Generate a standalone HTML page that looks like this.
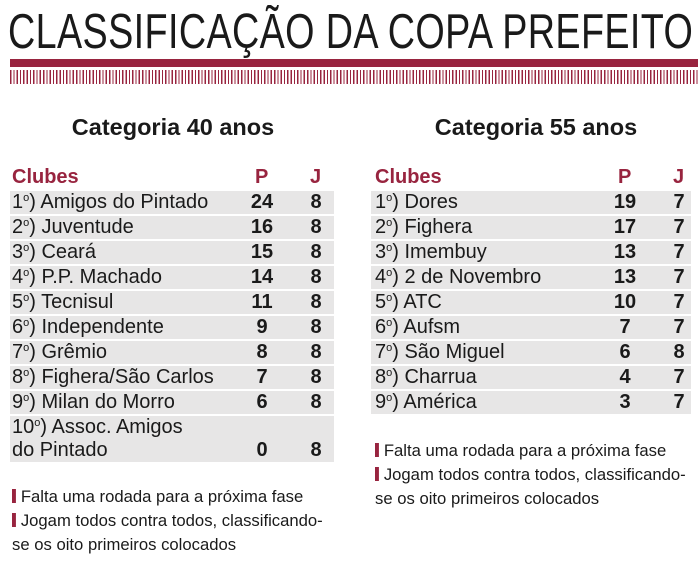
<!DOCTYPE html>
<html><head><meta charset="utf-8"><style>
*{margin:0;padding:0;box-sizing:border-box}
body{width:700px;height:568px;background:#fff;position:relative;overflow:hidden;font-family:"Liberation Sans",sans-serif;color:#1a1a1a}
.title{position:absolute;left:8px;top:4px;font-size:49px;white-space:nowrap;transform-origin:0 0;transform:scaleX(0.77);letter-spacing:0.5px;color:#1a1a1a}
.bar{position:absolute;left:10px;width:688px;top:59px;height:8px;background:#98243f}
.dash{position:absolute;left:10px;width:688px;top:70px;height:14px;background:repeating-linear-gradient(90deg,#98243f 0 1.3px,transparent 1.3px 3.3px)}
.h{position:absolute;font-weight:bold;font-size:23.5px;text-align:center;width:330px}
.ch{position:absolute;font-weight:bold;font-size:20px;color:#98243f;top:166px}
.row{position:absolute;height:23px;background:#e7e6e6}
.t{position:absolute;font-size:20px;white-space:nowrap;line-height:23px}
.n{position:absolute;font-weight:bold;font-size:20px;width:40px;text-align:center;line-height:23px}
.f{position:absolute;font-size:17px;white-space:nowrap;transform-origin:0 0;transform:scaleX(0.98)}
.m{display:inline-block;width:4px;height:14px;background:#98243f;margin-right:5px;vertical-align:-1px}
sup{font-size:11px;vertical-align:7px;line-height:0}
</style></head><body>
<div class="title">CLASSIFICAÇÃO DA COPA PREFEITO</div>
<div class="bar"></div><div class="dash"></div>
<div class="h" style="left:8px;top:114px">Categoria 40 anos</div>
<div class="h" style="left:371px;top:114px">Categoria 55 anos</div>
<div class="ch" style="left:12px">Clubes</div><div class="ch" style="left:255px">P</div><div class="ch" style="left:310px">J</div>
<div class="ch" style="left:375px">Clubes</div><div class="ch" style="left:618px">P</div><div class="ch" style="left:673px">J</div>

<div class="row" style="left:10px;top:191px;width:324px"></div>
<div class="row" style="left:10px;top:216px;width:324px"></div>
<div class="row" style="left:10px;top:241px;width:324px"></div>
<div class="row" style="left:10px;top:266px;width:324px"></div>
<div class="row" style="left:10px;top:291px;width:324px"></div>
<div class="row" style="left:10px;top:316px;width:324px"></div>
<div class="row" style="left:10px;top:341px;width:324px"></div>
<div class="row" style="left:10px;top:366px;width:324px"></div>
<div class="row" style="left:10px;top:391px;width:324px"></div>
<div class="row" style="left:10px;top:416px;width:324px;height:46px"></div>

<div class="row" style="left:371px;top:191px;width:320px"></div>
<div class="row" style="left:371px;top:216px;width:320px"></div>
<div class="row" style="left:371px;top:241px;width:320px"></div>
<div class="row" style="left:371px;top:266px;width:320px"></div>
<div class="row" style="left:371px;top:291px;width:320px"></div>
<div class="row" style="left:371px;top:316px;width:320px"></div>
<div class="row" style="left:371px;top:341px;width:320px"></div>
<div class="row" style="left:371px;top:366px;width:320px"></div>
<div class="row" style="left:371px;top:391px;width:320px"></div>

<div class="t" style="left:12px;top:191px">1<sup>o</sup>) Amigos do Pintado</div><div class="n" style="left:242px;top:191px">24</div><div class="n" style="left:296px;top:191px">8</div>
<div class="t" style="left:12px;top:216px">2<sup>o</sup>) Juventude</div><div class="n" style="left:242px;top:216px">16</div><div class="n" style="left:296px;top:216px">8</div>
<div class="t" style="left:12px;top:241px">3<sup>o</sup>) Ceará</div><div class="n" style="left:242px;top:241px">15</div><div class="n" style="left:296px;top:241px">8</div>
<div class="t" style="left:12px;top:266px">4<sup>o</sup>) P.P. Machado</div><div class="n" style="left:242px;top:266px">14</div><div class="n" style="left:296px;top:266px">8</div>
<div class="t" style="left:12px;top:291px">5<sup>o</sup>) Tecnisul</div><div class="n" style="left:242px;top:291px">11</div><div class="n" style="left:296px;top:291px">8</div>
<div class="t" style="left:12px;top:316px">6<sup>o</sup>) Independente</div><div class="n" style="left:242px;top:316px">9</div><div class="n" style="left:296px;top:316px">8</div>
<div class="t" style="left:12px;top:341px">7<sup>o</sup>) Grêmio</div><div class="n" style="left:242px;top:341px">8</div><div class="n" style="left:296px;top:341px">8</div>
<div class="t" style="left:12px;top:366px">8<sup>o</sup>) Fighera/São Carlos</div><div class="n" style="left:242px;top:366px">7</div><div class="n" style="left:296px;top:366px">8</div>
<div class="t" style="left:12px;top:391px">9<sup>o</sup>) Milan do Morro</div><div class="n" style="left:242px;top:391px">6</div><div class="n" style="left:296px;top:391px">8</div>
<div class="t" style="left:12px;top:416px">10<sup>o</sup>) Assoc. Amigos</div>
<div class="t" style="left:12px;top:439px">do Pintado</div><div class="n" style="left:242px;top:439px">0</div><div class="n" style="left:296px;top:439px">8</div>

<div class="t" style="left:375px;top:191px">1<sup>o</sup>) Dores</div><div class="n" style="left:605px;top:191px">19</div><div class="n" style="left:659px;top:191px">7</div>
<div class="t" style="left:375px;top:216px">2<sup>o</sup>) Fighera</div><div class="n" style="left:605px;top:216px">17</div><div class="n" style="left:659px;top:216px">7</div>
<div class="t" style="left:375px;top:241px">3<sup>o</sup>) Imembuy</div><div class="n" style="left:605px;top:241px">13</div><div class="n" style="left:659px;top:241px">7</div>
<div class="t" style="left:375px;top:266px">4<sup>o</sup>) 2 de Novembro</div><div class="n" style="left:605px;top:266px">13</div><div class="n" style="left:659px;top:266px">7</div>
<div class="t" style="left:375px;top:291px">5<sup>o</sup>) ATC</div><div class="n" style="left:605px;top:291px">10</div><div class="n" style="left:659px;top:291px">7</div>
<div class="t" style="left:375px;top:316px">6<sup>o</sup>) Aufsm</div><div class="n" style="left:605px;top:316px">7</div><div class="n" style="left:659px;top:316px">7</div>
<div class="t" style="left:375px;top:341px">7<sup>o</sup>) São Miguel</div><div class="n" style="left:605px;top:341px">6</div><div class="n" style="left:659px;top:341px">8</div>
<div class="t" style="left:375px;top:366px">8<sup>o</sup>) Charrua</div><div class="n" style="left:605px;top:366px">4</div><div class="n" style="left:659px;top:366px">7</div>
<div class="t" style="left:375px;top:391px">9<sup>o</sup>) América</div><div class="n" style="left:605px;top:391px">3</div><div class="n" style="left:659px;top:391px">7</div>

<div class="f" style="left:12px;top:487px"><span class="m"></span>Falta uma rodada para a próxima fase</div>
<div class="f" style="left:12px;top:511px"><span class="m"></span>Jogam todos contra todos, classificando-</div>
<div class="f" style="left:12px;top:535px">se os oito primeiros colocados</div>
<div class="f" style="left:375px;top:441px"><span class="m"></span>Falta uma rodada para a próxima fase</div>
<div class="f" style="left:375px;top:465px"><span class="m"></span>Jogam todos contra todos, classificando-</div>
<div class="f" style="left:375px;top:489px">se os oito primeiros colocados</div>
</body></html>
